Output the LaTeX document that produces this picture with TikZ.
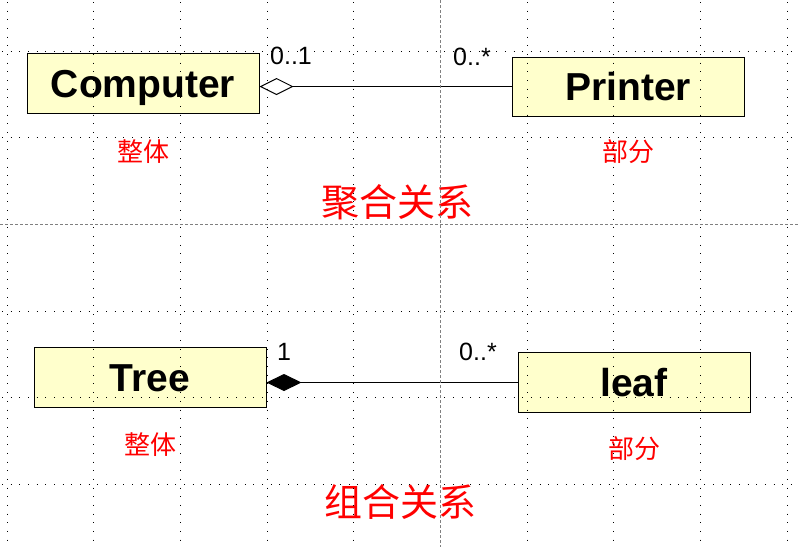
\documentclass[tikz,border=0pt]{standalone}
\usepackage{fontspec}
\setmainfont{Liberation Sans}
\newfontfamily\cjk{Noto Sans CJK SC}
\usepackage{tikz}
\usetikzlibrary{arrows.meta, positioning}
\definecolor{classyellow}{RGB}{255, 255, 204}

\begin{document}
\begin{tikzpicture}[
  x=1pt, y=-1pt,
  cls/.style={
    draw=black, fill=classyellow, line width=1pt,
    minimum width=232pt, minimum height=60pt, inner sep=0pt,
    text height=28pt, text depth=0pt,
    font=\fontsize{39}{39}\selectfont\bfseries
  },
  mult/.style={font=\fontsize{25}{25}\selectfont, inner sep=0pt},
  role/.style={text=red, font=\cjk\fontsize{26}{26}\selectfont, inner sep=0pt},
  title/.style={text=red, font=\cjk\fontsize{38}{38}\selectfont, inner sep=0pt},
  aggr/.style={-{Diamond[open, length=34pt, width=17pt]}, line width=1pt},
  comp/.style={-{Diamond[length=35pt, width=17pt]}, line width=1pt},
  gridline/.style={line width=1pt, dash pattern=on 1pt off 7.67pt},
  midline/.style={gray, line width=0.8pt, dash pattern=on 3pt off 2pt}
]
  \useasboundingbox (0,0) rectangle (799,547);

  % Aggregation (top half)
  \node[cls] (computer) at (143,83) {Computer};
  \node[cls, minimum height=59pt] (printer) at (628,86.5) {Printer};
  \node[role, below=26pt of computer] (whole1) {整体};
  \node[role, below=23pt of printer] (part1) {部分};
  \node[mult] (m1) at (291,56) {0..1};
  \node[mult] (m2) at (472,57) {0..*};
  \node[title] (aggrtitle) at (397,202) {聚合关系};

  \draw[aggr] (printer.west) -- (printer.west -| computer.east);

  % Composition (bottom half)
  \node[cls] (tree) at (150,377) {Tree};
  \node[cls] (leaf) at (634,382.5) {leaf};
  \node[role, below=25pt of tree] (whole2) {整体};
  \node[role, below=23pt of leaf] (part2) {部分};
  \node[mult] (m3) at (284,352) {1};
  \node[mult] (m4) at (478,352) {0..*};
  \node[title] (comptitle) at (400,502) {组合关系};

  \draw[comp] (leaf.west) -- (leaf.west -| tree.east);

  % Background grid
  \foreach \i in {0,...,9} {
    \ifnum\i=5
      \draw[midline] ({7+86.7*\i},0) -- ({7+86.7*\i},547);
    \else
      \draw[gridline] ({7+86.7*\i},2) -- ({7+86.7*\i},547);
    \fi
  }
  \foreach \j in {0,...,5} {
    \ifnum\j=2
      \draw[midline] (0,{51+86.7*\j}) -- (799,{51+86.7*\j});
    \else
      \draw[gridline] (2,{51+86.7*\j}) -- (799,{51+86.7*\j});
    \fi
  }
\end{tikzpicture}
\end{document}
